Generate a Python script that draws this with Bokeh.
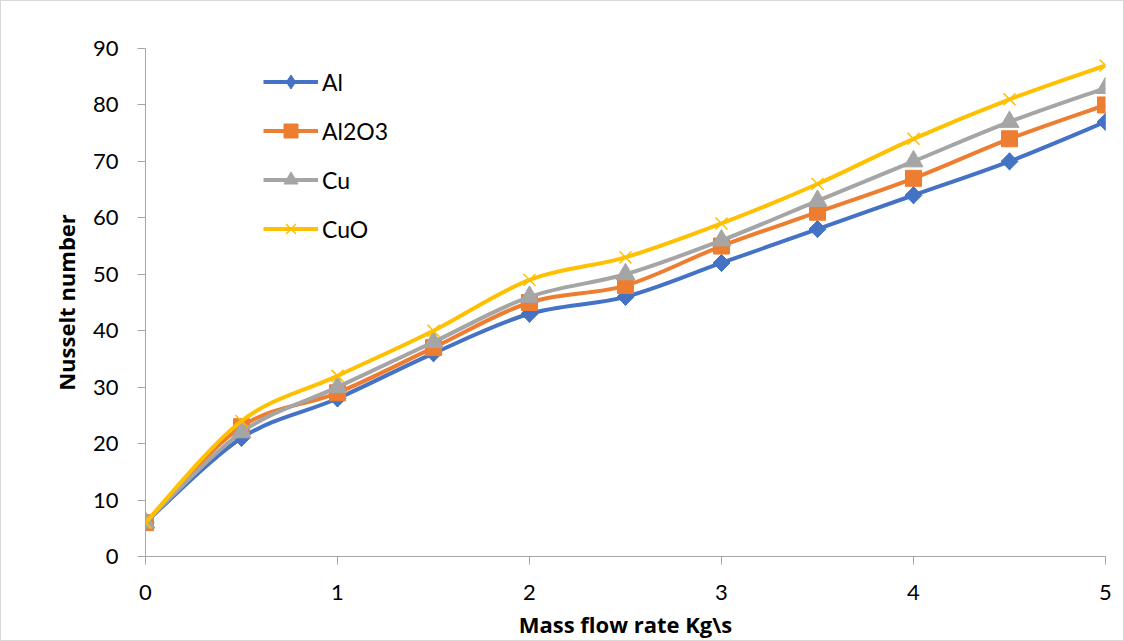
import numpy as np
from bokeh.plotting import figure
from bokeh.models import Range1d, Legend, LegendItem, FixedTicker
from bokeh.embed import file_html
from bokeh.resources import INLINE

# Mass flow rate (kg/s) and Nusselt number per nanoparticle type
flow = [0, 0.5, 1, 1.5, 2, 2.5, 3, 3.5, 4, 4.5, 5]
nu_al = [6, 21, 28, 36, 43, 46, 52, 58, 64, 70, 77]
nu_al2o3 = [6, 23, 29, 37, 45, 48, 55, 61, 67, 74, 80]
nu_cu = [6, 22, 30, 38, 46, 50, 56, 63, 70, 77, 83]
nu_cuo = [6, 24, 32, 40, 49, 53, 59, 66, 74, 81, 87]

x_ticks = [0, 1, 2, 3, 4, 5]
y_ticks = [0, 10, 20, 30, 40, 50, 60, 70, 80, 90]

FONT = "Lato"
LABEL_FONT = "Open Sans"
AXIS_GRAY = "#a6a6a6"

p = figure(width=1124, height=641, output_backend="svg", toolbar_location=None,
           x_range=Range1d(0, 5), y_range=Range1d(0, 90),
           min_border_left=144, min_border_right=20,
           min_border_top=47, min_border_bottom=86)
p.styles = {"border": "1px solid #d9d9d9", "box-sizing": "border-box"}
p.outline_line_color = None
p.xgrid.visible = False
p.ygrid.visible = False
p.background_fill_color = "white"
p.border_fill_color = "white"


def smooth_segments(xs, ys):
    """Cubic Bezier control points for a smoothed line through the points."""
    x = np.asarray(xs, float)
    y = np.asarray(ys, float)
    n = len(x)
    xp = np.concatenate([[x[0]], x, [x[-1]]])
    yp = np.concatenate([[y[0]], y, [y[-1]]])
    seg = {"x0": [], "y0": [], "x1": [], "y1": [],
           "cx0": [], "cy0": [], "cx1": [], "cy1": []}
    for i in range(n - 1):
        p0x, p0y = xp[i], yp[i]
        p1x, p1y = xp[i + 1], yp[i + 1]
        p2x, p2y = xp[i + 2], yp[i + 2]
        p3x, p3y = xp[i + 3], yp[i + 3]
        seg["x0"].append(p1x); seg["y0"].append(p1y)
        seg["x1"].append(p2x); seg["y1"].append(p2y)
        seg["cx0"].append(p1x + (p2x - p0x) / 6); seg["cy0"].append(p1y + (p2y - p0y) / 6)
        seg["cx1"].append(p2x - (p3x - p1x) / 6); seg["cy1"].append(p2y - (p3y - p1y) / 6)
    return seg


# name, values, colour, marker, size, rotation
series = [
    ("Al", nu_al, "#4472c4", "square", 12, np.pi / 4),
    ("Al2O3", nu_al2o3, "#ed7d31", "square", 16, 0),
    ("Cu", nu_cu, "#a5a5a5", "triangle", 19, 0),
    ("CuO", nu_cuo, "#ffc000", "x", 17, 0),
]

items = []
for name, vals, color, marker, size, rot in series:
    s = smooth_segments(flow, vals)
    curve = p.bezier(x0=s["x0"], y0=s["y0"], x1=s["x1"], y1=s["y1"],
                     cx0=s["cx0"], cy0=s["cy0"], cx1=s["cx1"], cy1=s["cy1"],
                     line_color=color, line_width=4)
    key = None
    if rot:
        # legend swatches ignore rotation, so the key is a diamond that sits
        # inside the rotated square markers drawn on top of it
        key = p.scatter(flow, vals, marker="diamond", size=17,
                        fill_color=color, line_color=color)
    if marker == "x":
        pts = p.scatter(flow, vals, marker=marker, size=size,
                        line_color=color, line_width=1.5)
    else:
        pts = p.scatter(flow, vals, marker=marker, size=size, angle=rot,
                        fill_color=color, line_color=color)
    items.append(LegendItem(label=name, renderers=[curve, key or pts]))

legend = Legend(items=items, location=(118, 310), orientation="vertical",
                glyph_width=55, glyph_height=35, spacing=14, padding=0, margin=0,
                label_standoff=4, label_text_font=FONT, label_text_font_size="23px",
                label_text_color="#000000", background_fill_alpha=0,
                border_line_color=None)
p.add_layout(legend, "center")

for ax in (p.xaxis, p.yaxis):
    ax.axis_line_color = AXIS_GRAY
    ax.axis_line_width = 1
    ax.major_tick_line_color = AXIS_GRAY
    ax.major_tick_in = 0
    ax.major_tick_out = 8
    ax.minor_tick_line_color = None
    ax.major_label_text_font = FONT
    ax.major_label_text_font_size = "22px"
    ax.major_label_text_color = "#000000"
    ax.axis_label_text_font = LABEL_FONT
    ax.axis_label_text_font_size = "22px"
    ax.axis_label_text_font_style = "bold"
    ax.axis_label_text_color = "#000000"

p.xaxis.ticker = FixedTicker(ticks=x_ticks)
p.yaxis.ticker = FixedTicker(ticks=y_ticks)
p.xaxis.axis_label = "Mass flow rate Kg\\s"
p.yaxis.axis_label = "Nusselt number"
p.xaxis.major_label_standoff = 20
p.yaxis.major_label_standoff = 19
p.xaxis.axis_label_standoff = 6
p.yaxis.axis_label_standoff = 9

open("out.html", "w").write(file_html(p, INLINE))
